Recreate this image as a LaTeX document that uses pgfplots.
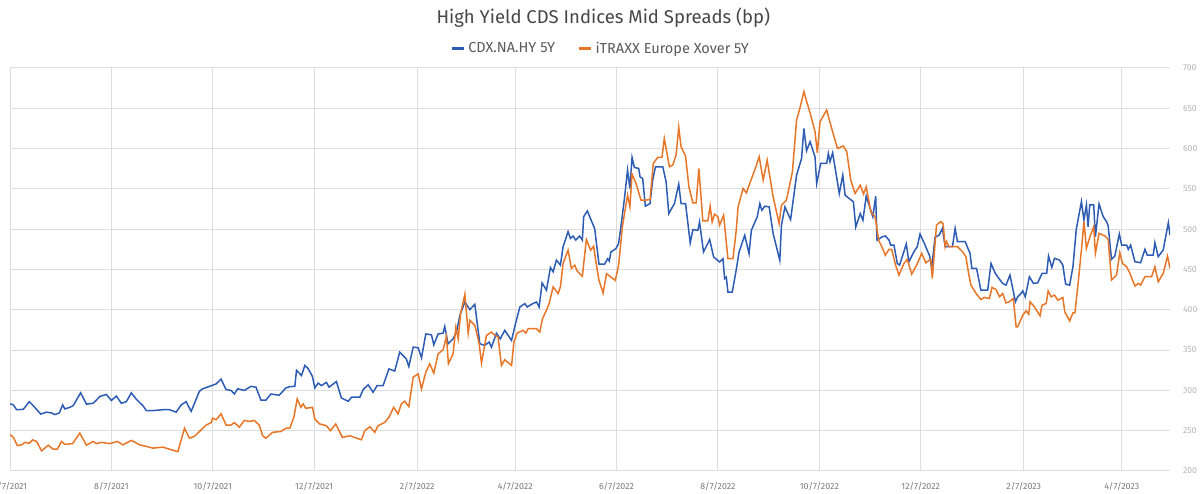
\documentclass[border=0pt]{standalone}
\usepackage{pgfplots}
\pgfplotsset{compat=1.18}
\usepackage{fontspec}
\setmainfont{Fira Sans}
\definecolor{cdx}{RGB}{45,92,180}
\definecolor{itx}{RGB}{232,118,40}
\definecolor{gridc}{RGB}{222,222,222}
\definecolor{titlec}{RGB}{70,70,70}
\definecolor{legc}{RGB}{90,90,90}
\definecolor{xtc}{RGB}{120,120,120}
\definecolor{ytc}{RGB}{180,180,180}
\begin{document}
\begin{tikzpicture}
\begin{axis}[
  at={(6pt,13.8pt)}, anchor=south west,
  scale only axis, width=696pt, height=241.8pt,
  xmin=0, xmax=698, ymin=200, ymax=700,
  axis line style={draw=none},
  major tick length=0pt,
  xtick={0,61,122,183,245,304,365,426,487,548,610,669},
  xticklabels={6/7/2021,8/7/2021,10/7/2021,12/7/2021,2/7/2022,4/7/2022,6/7/2022,8/7/2022,10/7/2022,12/7/2022,2/7/2023,4/7/2023},
  ytick={200,250,...,700},
  yticklabel pos=right,
  /pgf/number format/assume math mode=true,
  grid=major, major grid style={gridc, line width=0.6pt},
  x tick label style={font=\fontsize{5.3}{6}\selectfont, text=xtc, yshift=-3.2pt},
  y tick label style={font=\fontsize{5.2}{6}\selectfont, text=ytc, xshift=4.3pt},
  title={High Yield CDS Indices Mid Spreads (bp)},
  title style={font=\fontsize{11.1}{13}\selectfont, text=titlec, at={(0.5,1)}, anchor=center, yshift=24pt, xshift=8pt},
  legend style={draw=none, fill=none, at={(0.510,1.048)}, anchor=center, font=\fontsize{8.7}{10}\selectfont, text=legc,
    /tikz/every even column/.append style={column sep=12pt}},
  legend columns=2,
  legend cell align=left,
  legend image code/.code={\draw[#1, line width=1.4pt] (0pt,0pt) -- (7pt,0pt);},
]
\addplot[cdx, line width=0.9pt] coordinates {
(0,283.4) (2,282) (4,276) (8,276.5) (11.6,286) (14,281) (18.5,270.6) (22,273) (25,272) (27,270) (29.7,272) (31.7,282) (33,277) (36,279) (38,281) (42.5,297) (46,283) (50,284) (52,288) (54,292.5) (58,295) (61,287.5) (64,293) (67,284) (70,286) (73,297) (76,289) (80,281) (82,275) (86,275) (92,276) (96,276) (100,273) (103,282) (106,286) (109,274) (114,299) (116,302) (120,305) (124,308) (127,314) (130,301) (133,300) (135,295.5) (137,302) (141,300) (145,305) (148,304) (151,288) (154,288) (157,295.5) (162,294) (166,303)
(168.4,304.7) (171.4,305) (172.4,325) (175.4,318.4) (177.4,331) (179.4,327) (182,317.2) (183.4,303) (185.4,309) (187.4,306) (190.4,310) (192,304) (196.4,311) (199.4,290.6) (203.5,286.5) (205.5,291.5) (210.5,291.5) (212.5,301) (215.5,307) (218.5,297.7) (220.9,306) (224.5,306) (228,326.7) (231.5,324) (234.5,347.5) (238.5,339) (240,329.6) (242.6,353.7) (245.6,352.9) (247.6,340.4) (250.2,370) (253.6,369) (255,356.6) (257.6,370) (260.6,371) (261.6,379.4) (263.6,357.9) (266.6,364) (268.7,372.4) (270.7,393) (273.7,409.7) (276.7,400.2) (279.7,406.8) (282.7,357.9) (285.7,355.8) (288.3,360) (289.7,353.7) (292.7,371) (295,364) (297.7,374.5) (301.8,362) (304.4,384.8) (306.8,403.5) (309.8,407.7) (311.2,403.5) (313.8,406.8) (316.8,409.7) (318.4,403.5) (320.2,433.4) (322.8,424.3) (325.2,452.5) (326.8,447.1) (328.8,461.6) (331.2,455.4) (332.8,478.2) (335.8,497) (337.2,488.6) (338.8,491.5) (340.4,486.5) (342.8,491.5) (344.4,486.5) (345.2,515.6) (347.4,522.6) (349.8,510.6) (351.8,501) (354.4,456.6) (357.8,456.6)
(359.6,463.4) (360.6,460.5) (361.6,471.7) (364.6,475.9) (366.2,482.1) (367.6,502.8) (369.6,536) (371.6,573.3) (373,550.5) (374.3,589) (375.7,576.6) (378.3,575.4) (379.1,565) (380.7,562.9) (382.3,528.5) (385.1,531.8) (386.7,560.9) (388.4,577.4) (392.8,577.4) (394.8,558.8) (396.4,519.4) (399.8,531.8) (402.4,555.9) (403.8,531.8) (406.5,531.8) (409.3,482.9) (410.9,499.5) (413.9,498.6) (414.9,509) (417.3,471.7) (421,487.1) (423.4,465.5) (427,459.3) (429,463.4) (430,438.6) (431,440.6) (432,422) (434.6,422) (437,449.7) (438.7,471.7) (442.1,492.5) (444.7,469.6) (446.1,498.7) (449.6,515.3) (451.2,531.8) (452.4,523.5) (454.2,528.5) (456.8,527.7) (459.2,494.5) (463.2,461.4) (464.2,504.9) (466.3,527.7) (469.7,511.9) (473.3,567.1) (476.3,587.8) (477.7,625.1) (479.3,597.3) (481.4,608.5) (484.4,589.9) (485.4,556.7) (487.8,581.6) (491.4,581.6) (492.4,594) (493.4,583.7) (495,594.8) (499,544.3) (501.1,567.1) (502.5,542.2) (507.5,533.9) (508.9,502.8) (511.6,519.4) (513.2,511.1) (515.2,541) (519.2,515.3) (520.9,541) (521.7,486.2) (524.7,490.4) (526.7,491.6)
(528.9,486.6) (529.9,480.3) (531.9,480.3) (533.9,457.5) (535.3,455.5) (539.3,481.6) (540.9,459.6) (543.9,472) (545.9,478.3) (547.6,494) (550.6,480.3) (553.4,466.7) (554.6,451.3) (556.6,489.9) (559.1,492.8) (561.1,501) (562.7,478.3) (564.7,478.3) (567.1,478.3) (568.7,501) (570.1,484.5) (574.8,484.5) (576.8,474.1) (577.6,470.8) (578.8,451.3) (581.6,451.3) (584.2,424.4) (588.3,424.4) (590.3,457.5) (592.9,445.1) (594.3,441) (597.3,432.7) (599.3,430.6) (601.7,443) (605,409.9) (606.3,416.1) (608.4,420.3) (609.4,423.5) (610.9,416.1) (613.4,441) (615.8,432.7) (618.4,433.5) (621,445.1) (623.8,445.1) (624.9,466.7) (626.9,452.6) (628.5,463.8) (631.5,461.7) (633.5,455.5) (635.2,431.8) (637.6,430.6) (639.6,453.4) (641.6,499.8) (644.7,534.2) (646.2,511.4) (647.7,530.1) (648.7,503.1) (649.7,530.1) (652.1,530.1) (653.1,490.7) (655.3,531.3) (657.8,515.6) (659.8,509.4) (660.8,504) (662.8,462.5) (664.8,466.7) (667.5,494) (668.9,480.3) (671.9,480.3) (672.9,475) (674.3,480.3) (676.9,459.6) (680.3,458.4) (682.9,475) (684.3,467.9) (687.9,467.9) (688.9,483.3) (690.9,465.9) (693.9,474.1) (697,508.1) (698,492.8)
};
\addlegendentry{CDX.NA.HY 5Y}
\addplot[itx, line width=0.9pt] coordinates {
(0,245) (2,242) (4.4,231.5) (7,232.5) (9,235.5) (11.6,234.5) (13.6,238.6) (16,236.6) (19,225) (23,232) (26,227) (28.5,227) (31,236.6) (33,233) (37.7,234) (42,247) (46,232) (50,236.6) (52,234) (55,235.5) (60,234) (64.6,236.6) (68,232.5) (73,238) (78,232.5) (82,230.5) (86,228.4) (92,229.6) (96,227) (101,224) (103,238.6) (105,253) (108,240.7) (111,243) (114,249) (118,257) (121,260) (122,265.6) (124,263.5) (127,271) (130,257) (133,257) (135,260) (138,254.5) (141,262.7) (144,261.5) (147,262.7) (150,257) (152,243.7) (154,240.7) (158,248) (163,249) (166,253)
(168.4,253.3) (170.8,266.6) (172.8,289.4) (175,279) (176.4,283.2) (178,277.8) (182,279) (183.4,264.5) (186.4,258.3) (190.4,256.2) (192.8,250) (196,258.3) (200,241.7) (204.5,243.7) (208.5,240.8) (211.5,238.8) (213.5,250) (216.5,255) (219.5,248) (221.5,256.2) (225.5,260.3) (228,266.6) (230.9,279) (233.5,270.8) (235.5,283.2) (237.5,286.5) (240,279.8) (242.6,316.4) (245.6,320.5) (247.6,301.8) (250.2,322.6) (252.6,333) (255,321.3) (257.6,345.4) (260.6,350.4) (262.6,367) (263.8,333) (266.6,345.4) (268.3,378.6) (269.7,364) (271.1,395.2) (273.7,419.3) (275.7,371) (276.7,386.9) (279.7,380.7) (282.3,357.9) (283.7,333.8) (286.7,368.2) (289.7,372.4) (291.7,368.2) (293.7,366.2) (295.7,330.9) (297.7,338) (301.8,330.9) (303.2,360) (305.2,371.1) (308.8,374.5) (310.4,371.1) (311.8,376.5) (316.8,376.5) (318.8,372.4) (320.4,389) (322.8,399.4) (324.4,407.7) (326.8,428.4) (329.8,420.1) (331.2,428.4) (332.8,457.5) (335.8,474) (337.8,451.2) (339.8,455.4) (341.2,448.3) (344.4,441.7) (346.8,487.3) (349.4,474) (351.2,479) (352.4,461.6) (354.4,436.7) (356.9,420.7)
(358.9,444.8) (364.2,436.5) (366.2,455.1) (368.6,504.9) (371.6,542.2) (373,527.7) (374.3,568.3) (376.7,556.7) (379.7,536) (382.3,536) (385.1,536.8) (387.1,581.6) (389.7,589) (392.3,589) (393.7,612.7) (396.8,577.4) (398.8,579.5) (400.8,592) (402.4,626.4) (403.8,602.3) (406.5,590.7) (408.5,552.6) (410.9,532.7) (412.9,532.7) (414.5,575.4) (416.9,510.3) (419.9,510.3) (421.3,528.5) (422.5,509) (423.9,518.6) (426,515.3) (427,504.9) (429.4,517.3) (432,463.4) (435,463.4) (437,498.7) (438.1,527.7) (441.1,550.5) (443.1,545.1) (445.5,558.8) (448.8,577.4) (450.8,589.9) (453.2,560.9) (455.6,585.7) (459.2,540.1) (462.8,507) (464.2,529.8) (467.2,536) (470.8,571.2) (473.3,635.5) (475.3,650) (477.7,670.7) (479.7,656.2) (481.4,644.6) (484.4,621) (485.8,594.8) (487.4,633.3) (491.4,647.9) (494.4,625.1) (497.9,600.2) (501.5,603.2) (503.5,596.1) (505.9,560.9) (508.5,544.3) (511.6,554.6) (513.6,543.5) (515.2,552.6) (518,521.5) (520.6,515.3) (522.7,486.2) (524.7,477.9) (526.7,467.6)
(528.9,475) (530.5,475) (532.9,455.5) (534.9,443) (537.9,457.5) (539.9,462.5) (542.6,444.3) (546,457.5) (548.6,470) (551,458.4) (554,462.5) (555,438.9) (557.5,505.2) (560.1,509.4) (561.5,506.5) (562.7,478.3) (563.5,484.5) (565.1,478.3) (570.1,478.3) (573.2,472) (575.2,465.8) (576.8,445.1) (578.2,430.6) (581.6,419.4) (584.2,412.8) (586.3,415.3) (589.3,414) (590.9,427.7) (593.3,425.2) (595.4,416.1) (597.3,420.3) (599.3,408.6) (601.3,409.9) (603.7,414) (605.4,378.8) (606.3,378.8) (609.4,393.3) (611.4,398.7) (613,394.5) (613.8,409.9) (616.4,403.7) (619.8,392.5) (621,405.7) (623.5,407.8) (624.7,423.5) (626.5,416.1) (628.5,418.2) (630.5,411.9) (633.5,415.3) (634.7,397.4) (637.6,386.2) (639.6,396.2) (640.8,396.2) (642.6,430.6) (644.7,474.1) (646.2,509.4) (647.7,476.2) (649.7,489.9) (652.1,503.1) (653.1,470) (655.3,494.9) (658.8,491.6) (660.8,487.4) (662.8,436.8) (665.8,443) (667.8,470.8) (669.4,457.5) (671.9,453.4) (673.9,445.1) (676.9,429.4) (678.9,432.7) (680.3,430.6) (682.9,441) (686.9,441) (688.9,453.4) (690.9,434.8) (693.9,445.1) (696.5,466.7) (698,451.3)
};
\addlegendentry{iTRAXX Europe Xover 5Y}
\node[anchor=west, text=ytc!60!itx, font=\fontsize{5.2}{6}\selectfont\itshape, inner sep=0pt] at (axis cs:698,450) [xshift=5.5pt] {450};
\node[anchor=west, text=cdx, font=\fontsize{5.2}{6}\selectfont\itshape, inner sep=0pt] at (axis cs:698,493) [xshift=5.5pt] {493};
\end{axis}
\pgfresetboundingbox
\path[use as bounding box] (0,0) rectangle (720pt,296.4pt);
\end{tikzpicture}
\end{document}
